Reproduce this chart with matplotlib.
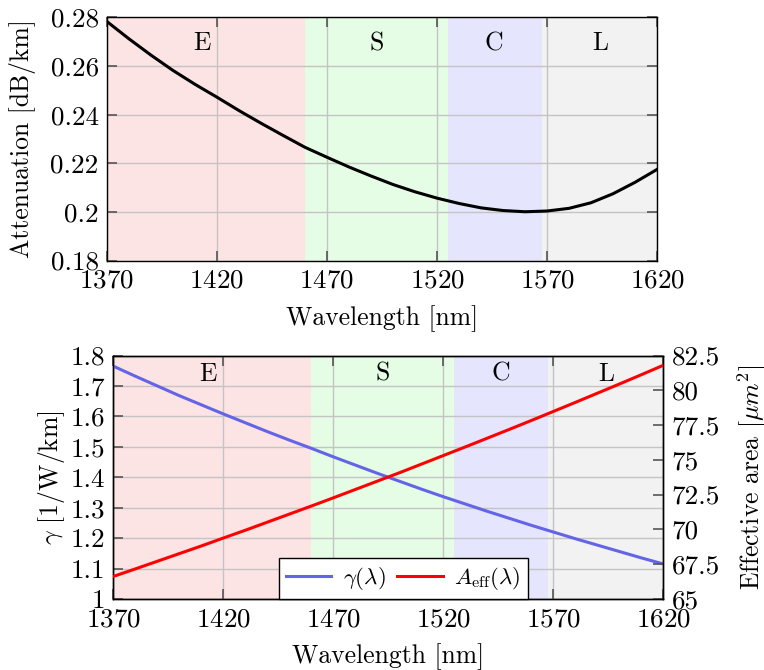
import numpy as np
import matplotlib.pyplot as plt
from matplotlib.ticker import FuncFormatter

plt.rcParams['font.family'] = 'serif'
plt.rcParams['font.serif'] = ['cmr10']
plt.rcParams['mathtext.fontset'] = 'cm'
plt.rcParams['axes.formatter.use_mathtext'] = True

# wavelength grid [nm]
wl = [1370, 1380, 1390, 1400, 1410, 1420, 1430, 1440, 1450, 1460, 1470, 1480, 1490,
      1500, 1510, 1520, 1530, 1540, 1550, 1560, 1570, 1580, 1590, 1600, 1610, 1620]

# attenuation [dB/km]
atten = [0.2783, 0.2712, 0.2645, 0.2582, 0.2525, 0.2472, 0.2417, 0.2365, 0.2315, 0.2266,
         0.2225, 0.2185, 0.2148, 0.2113, 0.2083, 0.2057, 0.2035, 0.2017, 0.2006, 0.2001,
         0.2004, 0.2015, 0.2038, 0.2075, 0.2122, 0.2175]

# nonlinear coefficient [1/W/km]
gamma = [1.765, 1.732, 1.700, 1.668, 1.638, 1.608, 1.579, 1.550, 1.522, 1.495,
         1.467, 1.440, 1.413, 1.387, 1.361, 1.336, 1.312, 1.288, 1.265, 1.242,
         1.220, 1.198, 1.177, 1.156, 1.135, 1.115]

# effective area [um^2]
aeff = [66.62, 67.16, 67.71, 68.26, 68.81, 69.38, 69.94, 70.52, 71.10, 71.68,
        72.27, 72.87, 73.47, 74.07, 74.69, 75.31, 75.93, 76.56, 77.19, 77.83,
        78.48, 79.13, 79.79, 80.45, 81.12, 81.80]

# bands
band_names = ['E', 'S', 'C', 'L']
band_lo = [1360, 1460, 1525, 1567.5]
band_hi = [1460, 1525, 1567.5, 1625]
band_txt = [1413, 1492.5, 1546, 1594]
band_col = ['#fde4e4', '#e5fde5', '#e5e5fd', '#f2f2f2']

xticks = [1370, 1420, 1470, 1520, 1570, 1620]
fs = 18.5
tfs = 19.5
gridc = '#c4c4c4'
tickc = '#555555'

def fmt(v, pos):
    return '%g' % round(v, 4)

def bands(ax, ytxt):
    for i in range(len(band_names)):
        ax.axvspan(band_lo[i], band_hi[i], color=band_col[i], lw=0, zorder=0)
        ax.text(band_txt[i], ytxt, band_names[i], transform=ax.get_xaxis_transform(),
                ha='center', va='center', fontsize=fs)

fig = plt.figure(figsize=(7.64, 6.70), dpi=100)

# top panel
ax = fig.add_axes([0.140, 0.611, 0.720, 0.363])
bands(ax, 0.893)
ax.plot(wl, atten, color='black', lw=2.2, zorder=3)
ax.set_xlim(1370, 1620)
ax.set_ylim(0.18, 0.28)
ax.set_xticks(xticks)
ax.set_yticks([0.18, 0.2, 0.22, 0.24, 0.26, 0.28])
ax.yaxis.set_major_formatter(FuncFormatter(fmt))
ax.grid(True, color=gridc, lw=1.0)
ax.tick_params(direction='in', top=True, right=True, length=7, width=1.2,
               color=tickc, labelsize=tfs, pad=6)
ax.set_xlabel('Wavelength [nm]', fontsize=fs, labelpad=9)
ax.set_ylabel('Attenuation [dB/km]', fontsize=fs)
ax.yaxis.set_label_coords(-0.1295, 0.5)
for s in ax.spines.values():
    s.set_linewidth(1.0)

# bottom panel
ax1 = fig.add_axes([0.1483, 0.106, 0.720, 0.3634])
bands(ax1, 0.925)
l1, = ax1.plot(wl, gamma, color='#6464e6', lw=2.2, zorder=3, label=r'$\gamma(\lambda)$')
ax1.set_xlim(1370, 1620)
ax1.set_ylim(1.0, 1.8)
ax1.set_xticks(xticks)
ax1.set_yticks(np.arange(1.0, 1.81, 0.1))
ax1.yaxis.set_major_formatter(FuncFormatter(fmt))
ax1.grid(True, color=gridc, lw=1.0)
ax1.tick_params(direction='in', top=True, right=True, length=7, width=1.2,
                color=tickc, labelsize=tfs, pad=6)
ax1.set_xlabel('Wavelength [nm]', fontsize=fs, labelpad=9)
ax1.set_ylabel(r'$\gamma$ [1/W/km]', fontsize=fs)
ax1.yaxis.set_label_coords(-0.085, 0.5)

ax2 = ax1.twinx()
l2, = ax2.plot(wl, aeff, color='red', lw=2.2, zorder=3, label=r'$A_{\mathrm{eff}}(\lambda)$')
ax2.set_ylim(65, 82.5)
ax2.set_yticks([65, 67.5, 70, 72.5, 75, 77.5, 80, 82.5])
ax2.yaxis.set_major_formatter(FuncFormatter(fmt))
ax2.tick_params(direction='in', length=7, width=1.2, color=tickc, labelsize=tfs, pad=6)
ax2.set_ylabel(r'Effective area [$\mu m^2$]', fontsize=fs)
ax2.yaxis.set_label_coords(1.1325, 0.5)
for s in list(ax1.spines.values()) + list(ax2.spines.values()):
    s.set_linewidth(1.0)

leg = ax2.legend([l1, l2], [l1.get_label(), l2.get_label()], loc='lower center',
                 bbox_to_anchor=(0.527, 0.0), borderaxespad=0, ncol=2, fontsize=16.5,
                 fancybox=False, framealpha=1, edgecolor='black', handlelength=2.0,
                 columnspacing=0.5, handletextpad=0.5, borderpad=0.3)
leg.get_frame().set_linewidth(1.0)

plt.savefig('out.png', dpi=100)
plt.close()
